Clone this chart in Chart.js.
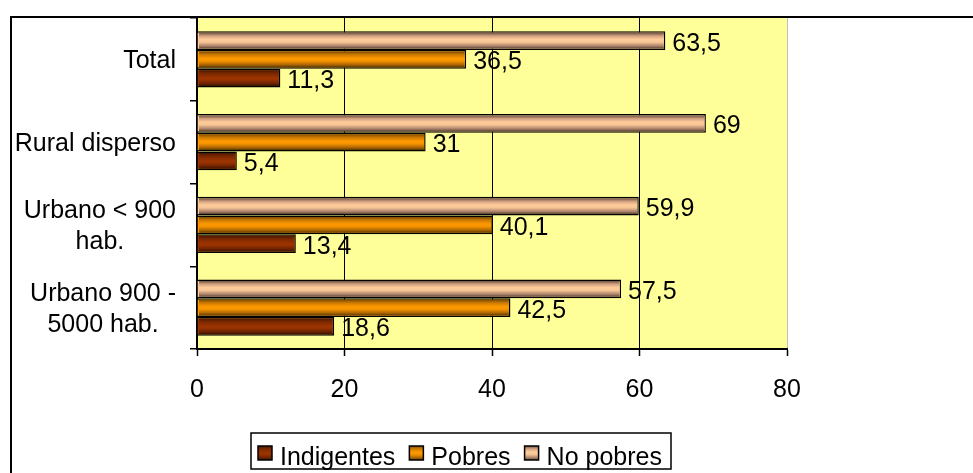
<!DOCTYPE html>
<html>
<head>
<meta charset="utf-8">
<script src="https://cdn.jsdelivr.net/npm/chart.js@4.4.0/dist/chart.umd.min.js"></script>
<style>
    body { margin: 0; background: #fff; }
    #wrap { width: 973px; height: 473px; }
</style>
</head>
<body>
<div id="wrap"><canvas id="chart" width="973" height="473"></canvas></div>
<script>
const categories  = [['Total'], ['Rural disperso'], ['Urbano < 900', 'hab.'], ['Urbano 900 -', '5000 hab.']]
const seriesNames = ['Indigentes', 'Pobres', 'No pobres']
const indigentes  = [11.3, 5.4, 13.4, 18.6]
const pobres      = [36.5, 31, 40.1, 42.5]
const noPobres    = [63.5, 69, 59.9, 57.5]
const xTicks      = [0, 20, 40, 60, 80]

const FAMILY = '"Liberation Sans", Arial, sans-serif'
const FONT   = '25px ' + FAMILY

// cylinder-like shading of each series, top to bottom
const shades = {
    'Indigentes': [[0, '#4a1800'], [0.2, '#7a2800'], [0.45, '#993300'], [0.6, '#993300'], [0.85, '#6a2200'], [1, '#3a1200']],
    'Pobres'    : [[0, '#7a4a00'], [0.2, '#cc7a00'], [0.45, '#ff9900'], [0.6, '#f79400'], [0.85, '#a86400'], [1, '#5a3600']],
    'No pobres' : [[0, '#6e5242'], [0.2, '#d0a080'], [0.42, '#ffcc99'], [0.6, '#f7c496'], [0.85, '#a88068'], [1, '#5e4436']],
}

function fillShade(ctx, name, x, y, w, h) {
    const g = ctx.createLinearGradient(0, y, 0, y + h)
    shades[name].forEach(([o, c]) => g.addColorStop(o, c))
    ctx.fillStyle = g
    ctx.fillRect(x, y, w, h)
}

const frame = {
    id: 'frame',
    beforeDraw(chart) {
        const {ctx, chartArea: a} = chart
        ctx.save()
        ctx.fillStyle = '#ffff99'
        ctx.fillRect(a.left, a.top, a.right - a.left, a.bottom - a.top)
        ctx.strokeStyle = '#000'
        ctx.lineWidth   = 2
        ctx.beginPath()
        ctx.moveTo(11, 480)
        ctx.lineTo(11, 17)
        ctx.lineTo(980, 17)
        ctx.stroke()
        ctx.restore()
    }
}

const barShade = {
    id: 'barShade',
    afterDatasetDraw(chart, args) {
        const ctx  = chart.ctx
        const name = chart.data.datasets[args.index].label
        ctx.save()
        args.meta.data.forEach(el => {
            const {x, y, base, height} = el.getProps(['x', 'y', 'base', 'height'], true)
            const bw = 1.5
            fillShade(ctx, name, Math.min(x, base) + bw, y - height / 2 + bw, Math.abs(x - base) - 2 * bw, height - 2 * bw)
        })
        ctx.restore()
    }
}

const valueLabels = {
    id: 'valueLabels',
    afterDatasetsDraw(chart) {
        const ctx = chart.ctx
        ctx.save()
        ctx.font         = FONT
        ctx.fillStyle    = '#000'
        ctx.textAlign    = 'left'
        ctx.textBaseline = 'middle'
        chart.data.datasets.forEach((ds, i) => {
            chart.getDatasetMeta(i).data.forEach((el, j) => {
                ctx.fillText(String(ds.data[j]).replace('.', ','), el.x + 7, el.y + 3)
            })
        })
        ctx.restore()
    }
}

const categoryLabels = {
    id: 'categoryLabels',
    afterDraw(chart) {
        const ctx   = chart.ctx
        const y     = chart.scales.y
        const right = 176
        const lh    = 31
        ctx.save()
        ctx.font         = FONT
        ctx.fillStyle    = '#000'
        ctx.textAlign    = 'center'
        ctx.textBaseline = 'middle'
        categories.forEach((lines, i) => {
            const w  = Math.max(...lines.map(l => ctx.measureText(l).width))
            const cy = y.getPixelForValue(i) + 2
            lines.forEach((l, k) => {
                ctx.fillText(l, right - w / 2, cy + (k - (lines.length - 1) / 2) * lh)
            })
        })
        ctx.restore()
    }
}

const boxLegend = {
    id: 'boxLegend',
    afterDraw(chart) {
        const ctx = chart.ctx
        ctx.save()
        ctx.font         = FONT
        ctx.textBaseline = 'alphabetic'
        let x = 258
        seriesNames.forEach(name => {
            fillShade(ctx, name, x, 446, 14, 14)
            ctx.strokeStyle = '#000'
            ctx.lineWidth   = 1.5
            ctx.strokeRect(x, 446, 14, 14)
            ctx.fillStyle = '#000'
            ctx.fillText(name, x + 22, 465)
            x += 22 + ctx.measureText(name).width + 14
        })
        ctx.lineWidth = 1.5
        ctx.strokeRect(251, 433, 420, 36)
        ctx.restore()
    }
}

new Chart(document.getElementById('chart'), {
    type   : 'bar',
    data   : {
        labels  : categories,
        datasets: [
            {label: seriesNames[2], data: noPobres, backgroundColor: '#ffcc99'},
            {label: seriesNames[1], data: pobres, backgroundColor: '#ff9900'},
            {label: seriesNames[0], data: indigentes, backgroundColor: '#993300'},
        ].map(d => ({...d, borderColor: '#000', borderWidth: 1.5, categoryPercentage: 0.68, barPercentage: 1}))
    },
    options: {
        indexAxis : 'y',
        responsive: false,
        animation : false,
        layout    : {padding: {left: 0, top: 18, right: 186, bottom: 0}},
        plugins   : {legend: {display: false}, tooltip: {enabled: false}},
        scales    : {
            x: {
                min            : 0,
                max            : 80,
                afterBuildTicks: s => { s.ticks = xTicks.map(v => ({value: v})) },
                afterFit       : s => { s.height = 124 },
                ticks          : {font: {family: FAMILY, size: 25}, color: '#000', padding: 19, maxRotation: 0},
                grid           : {
                    color     : c => (c.tick && c.tick.value === 80 ? '#c0c0c0' : '#000'),
                    lineWidth : 1,
                    tickLength: 7,
                    tickColor : '#000',
                    tickWidth : 1.5
                },
                border         : {color: '#000', width: 2}
            },
            y: {
                afterFit: s => { s.width = 197 },
                ticks   : {display: false},
                grid    : {drawOnChartArea: false, tickLength: 7, color: '#000', lineWidth: 1.5, offset: true},
                border  : {color: '#000', width: 2}
            }
        }
    },
    plugins: [frame, barShade, valueLabels, categoryLabels, boxLegend]
})
</script>
</body>
</html>
